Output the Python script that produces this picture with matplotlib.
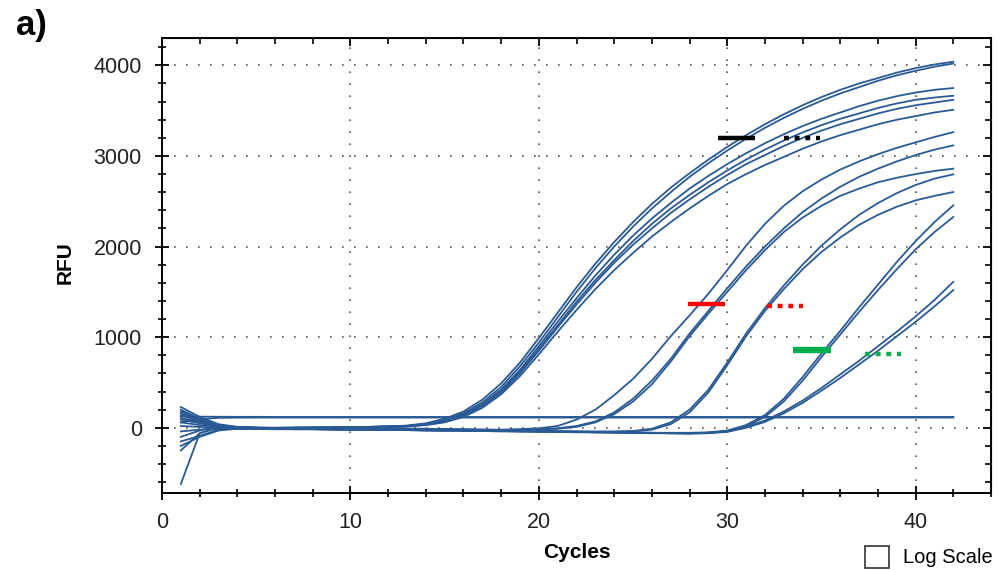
import matplotlib
matplotlib.use('Agg')
import matplotlib.pyplot as plt
from matplotlib.ticker import MultipleLocator
from matplotlib.patches import Rectangle

plt.rcParams['font.family'] = ['Liberation Sans', 'DejaVu Sans']

# amplification curves, RFU per cycle (cycles 1..42)
cycles = list(range(1, 43))

# group A - earliest
a1 = [180, 90, 30, 5, 0, -5, -5, 0, 0, 5,
      10, 15, 25, 50, 100, 180, 310, 490, 720, 990,
      1270, 1550, 1810, 2050, 2270, 2470, 2650, 2810, 2960, 3100,
      3230, 3350, 3460, 3560, 3650, 3730, 3800, 3860, 3920, 3970,
      4010, 4040]
a2 = [140, 70, 20, 0, -5, -5, 0, 0, 5, 5,
      10, 15, 20, 40, 85, 160, 280, 450, 680, 940,
      1220, 1500, 1760, 2000, 2220, 2420, 2600, 2770, 2920, 3060,
      3190, 3310, 3420, 3520, 3610, 3690, 3760, 3830, 3890, 3940,
      3985, 4020]
a3 = [90, 50, 10, -5, -5, 0, 0, 5, 5, 10,
      10, 15, 20, 40, 80, 150, 260, 420, 640, 900,
      1170, 1430, 1680, 1910, 2120, 2310, 2480, 2640, 2780, 2910,
      3030, 3140, 3240, 3330, 3410, 3480, 3550, 3610, 3660, 3700,
      3730, 3750]
a4 = [-100, -30, 20, 10, 0, -5, -5, 0, 0, 5,
      10, 10, 15, 35, 70, 140, 250, 410, 620, 870,
      1130, 1390, 1630, 1850, 2060, 2250, 2420, 2570, 2710, 2840,
      2960, 3070, 3170, 3260, 3340, 3410, 3470, 3530, 3580, 3620,
      3645, 3665]
a5 = [-250, -60, 10, 5, 0, 0, 5, 5, 5, 10,
      10, 15, 20, 35, 70, 130, 240, 390, 600, 850,
      1110, 1360, 1600, 1820, 2020, 2200, 2370, 2520, 2660, 2790,
      2910, 3010, 3110, 3200, 3280, 3350, 3410, 3470, 3520, 3560,
      3590, 3620]
a6 = [-620, -60, 0, 10, 5, 0, 0, 0, 5, 5,
      10, 10, 15, 30, 60, 120, 220, 370, 570, 810,
      1060, 1300, 1530, 1740, 1930, 2110, 2270, 2420, 2560, 2690,
      2800, 2900, 2990, 3080, 3160, 3230, 3290, 3350, 3400, 3440,
      3480, 3510]

# group B
b1 = [230, 120, 40, 10, 0, -5, -5, -10, -10, -10,
      -5, -5, -10, -10, -15, -15, -20, -20, -15, -5,
      20, 90, 200, 360, 540, 760, 1010, 1240, 1480, 1740,
      2010, 2250, 2450, 2610, 2740, 2850, 2940, 3020, 3090, 3150,
      3210, 3263]
b2 = [200, 100, 30, 5, 0, -5, -10, -10, -10, -5,
      -5, -10, -10, -15, -15, -20, -20, -25, -20, -15,
      -5, 20, 70, 170, 320, 520, 760, 1040, 1290, 1540,
      1780, 2000, 2200, 2380, 2530, 2660, 2770, 2860, 2940, 3010,
      3070, 3117]
b3 = [160, 80, 25, 0, -5, -5, -5, -10, -10, -10,
      -10, -10, -15, -15, -20, -20, -25, -25, -25, -20,
      -10, 10, 60, 150, 290, 480, 730, 1010, 1260, 1500,
      1740, 1960, 2160, 2320, 2450, 2560, 2640, 2710, 2760, 2800,
      2835, 2860]

# group C
c1 = [110, 60, 20, 0, -5, -10, -10, -10, -10, -15,
      -15, -15, -20, -20, -20, -25, -25, -30, -30, -35,
      -35, -40, -40, -40, -35, -10, 60, 200, 420, 720,
      1040, 1320, 1570, 1800, 2010, 2190, 2350, 2480, 2590, 2680,
      2750, 2797]
c2 = [60, 30, 10, -5, -10, -10, -10, -15, -15, -15,
      -20, -20, -20, -25, -25, -25, -30, -30, -35, -35,
      -40, -40, -45, -45, -40, -20, 40, 170, 390, 690,
      1010, 1290, 1530, 1750, 1940, 2100, 2240, 2350, 2440, 2510,
      2560, 2602]

# group D
d1 = [20, 10, 0, -10, -10, -10, -15, -15, -15, -20,
      -20, -20, -25, -25, -30, -30, -30, -35, -35, -40,
      -40, -45, -45, -50, -50, -55, -55, -55, -50, -30,
      30, 140, 320, 560, 820, 1070, 1330, 1580, 1830, 2060,
      2270, 2456]
d2 = [-40, -20, -10, -10, -10, -15, -15, -15, -20, -20,
      -20, -25, -25, -30, -30, -30, -35, -35, -40, -40,
      -45, -45, -50, -50, -55, -55, -60, -60, -55, -40,
      15, 120, 290, 520, 780, 1030, 1280, 1520, 1750, 1970,
      2160, 2327]

# group E - latest
e1 = [-150, -90, -20, -5, -10, -10, -15, -15, -15, -20,
      -20, -20, -25, -25, -30, -30, -35, -35, -40, -40,
      -45, -45, -50, -50, -55, -55, -60, -60, -55, -35,
      10, 80, 180, 300, 440, 590, 740, 900, 1060, 1230,
      1410, 1611]
e2 = [-200, -100, -30, -10, -10, -15, -15, -15, -20, -20,
      -20, -25, -25, -30, -30, -35, -35, -40, -40, -45,
      -45, -50, -50, -55, -55, -60, -60, -65, -60, -45,
      0, 65, 160, 275, 410, 550, 700, 850, 1010, 1170,
      1340, 1520]

# no-template controls, flat
ntc1 = [125, 123, 122, 121, 121, 120, 120, 120, 120, 120,
        120, 120, 120, 120, 120, 120, 120, 120, 120, 120,
        120, 120, 120, 120, 120, 120, 120, 120, 120, 120,
        120, 120, 120, 120, 120, 120, 120, 120, 120, 120,
        120, 120]
ntc2 = [60, 95, 110, 112, 113, 113, 113, 113, 113, 113,
        113, 113, 113, 113, 113, 113, 113, 113, 113, 113,
        113, 113, 113, 113, 113, 113, 113, 113, 113, 113,
        113, 113, 113, 113, 113, 113, 113, 113, 113, 113,
        113, 113]

curves = [a1, a2, a3, a4, a5, a6, b1, b2, b3, c1, c2, d1, d2, e1, e2, ntc1, ntc2]

# threshold marks (x from, x to, RFU level, colour, solid/dotted)
mark_x0 = [29.5, 33.0, 27.9, 32.1, 33.5, 37.3]
mark_x1 = [31.5, 34.9, 29.9, 34.0, 35.5, 39.2]
mark_y = [3200, 3200, 1365, 1345, 860, 815]
mark_col = ['black', 'black', '#ff0000', '#ff0000', '#00b050', '#00b050']
mark_dotted = [False, True, False, True, False, True]

fig = plt.figure(figsize=(10, 5.7), dpi=100)
ax = fig.add_axes([0.162, 0.135, 0.829, 0.798])

for c in curves:
    ax.plot(cycles, c, color='#2a5a94', lw=1.3, zorder=3)

for x0, x1, y, col, dot in zip(mark_x0, mark_x1, mark_y, mark_col, mark_dotted):
    lw = 4.6 if col == '#00b050' and not dot else 3.2
    if dot:
        ax.plot([x0, x1], [y, y], color=col, lw=lw, ls=(0, (1.1, 1.3)),
                solid_capstyle='butt', dash_capstyle='butt', zorder=5)
    else:
        ax.plot([x0, x1], [y, y], color=col, lw=lw,
                solid_capstyle='butt', zorder=5)

ax.set_xlim(0, 44)
ax.set_ylim(-720, 4300)
ax.xaxis.set_major_locator(MultipleLocator(10))
ax.xaxis.set_minor_locator(MultipleLocator(2))
ax.yaxis.set_major_locator(MultipleLocator(1000))
ax.yaxis.set_minor_locator(MultipleLocator(200))

ax.grid(True, which='major', color='#555555', lw=1.2, ls=(0, (1, 6.2)), zorder=1)

for s in ax.spines.values():
    s.set_linewidth(1.4)
ax.tick_params(which='major', direction='inout', length=10, width=1.3,
               labelsize=15.5, colors='black', labelcolor='#222222')
ax.tick_params(axis='y', which='major', pad=9.5)
ax.tick_params(axis='x', which='major', pad=9)
ax.tick_params(which='minor', direction='inout', length=6, width=1.2)

# top and right ticks point inwards only
top = ax.secondary_xaxis('top')
top.xaxis.set_major_locator(MultipleLocator(10))
top.xaxis.set_minor_locator(MultipleLocator(2))
top.tick_params(which='major', direction='in', length=6, width=1.3, labeltop=False)
top.tick_params(which='minor', direction='in', length=4, width=1.2)
right = ax.secondary_yaxis('right')
right.yaxis.set_major_locator(MultipleLocator(1000))
right.yaxis.set_minor_locator(MultipleLocator(200))
right.tick_params(which='major', direction='in', length=6, width=1.3, labelright=False)
right.tick_params(which='minor', direction='in', length=4, width=1.2)

fig.text(0.577, 0.030, 'Cycles', ha='center', va='center', fontsize=15, fontweight='bold')
fig.text(0.065, 0.540, 'RFU', ha='center', va='center', rotation=90,
         fontsize=15, fontweight='bold')
fig.text(0.016, 0.955, 'a)', ha='left', va='center', fontsize=25, fontweight='bold')

# "Log Scale" check box under the plot
fig.patches.append(Rectangle((0.865, 0.004), 0.024, 0.038, transform=fig.transFigure,
                             fill=False, edgecolor='#333333', lw=1.2))
fig.text(0.903, 0.022, 'Log Scale', ha='left', va='center', fontsize=14.5)

fig.savefig('out.png', dpi=100)
